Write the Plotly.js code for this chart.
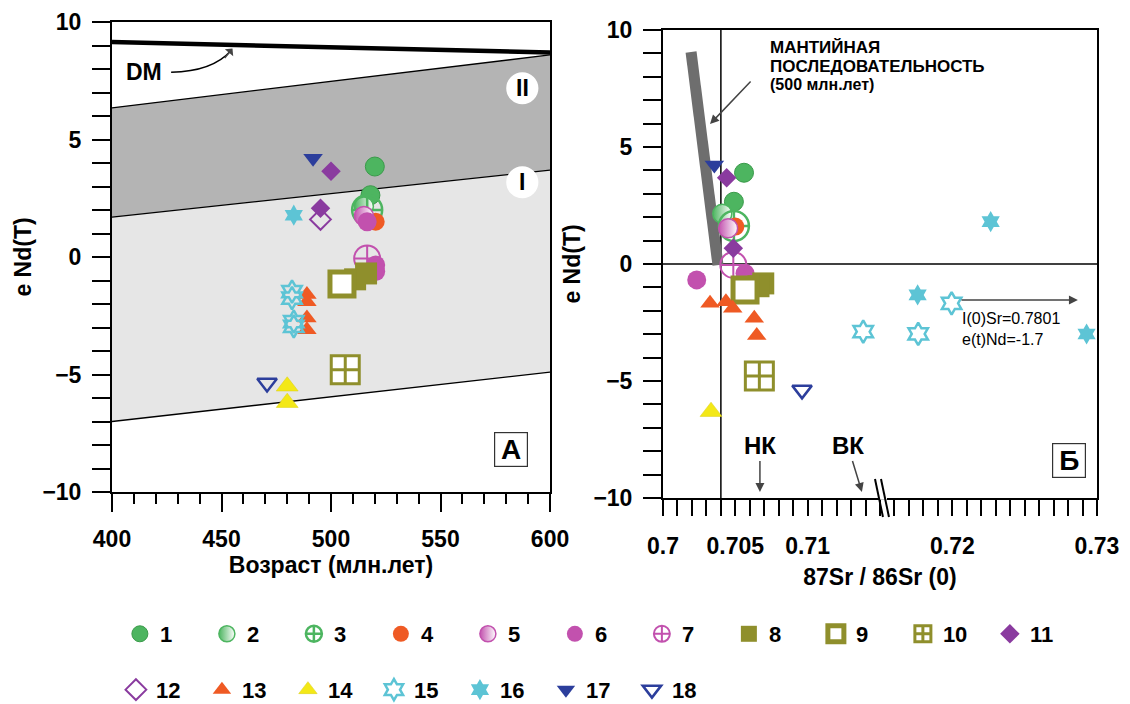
<!DOCTYPE html>
<html><head><meta charset="utf-8">
<script src="https://cdn.plot.ly/plotly-3.0.1.min.js"></script>
<style>html,body{margin:0;padding:0;background:#fff}</style>
</head><body><div id="chart" style="width:1130px;height:704px"></div>
<script>
// ---------- data ----------
const seriesNames = ['1','2','3','4','5','6','7','8','9','10','11','12','13','14','15','16','17','18'];
// Panel A: age (Ma) vs eNd(T)
const ageX = [
  [520, 518], [515], [516.5], [520.4], [515], [516.5, 520.4, 520.4], [516.5],
  [511, 516], [505], [506.5], [500, 495.2], [495.2],
  [489, 489, 489, 489], [480, 480], [482.2, 482.2, 483, 483], [483], [491.8], [470.8]
];
const ageNd = [
  [3.85, 2.63], [2.15], [2.0], [1.5], [1.75], [1.5, -0.34, -0.62], [-0.06],
  [-0.95, -0.7], [-1.15], [-4.8], [3.65, 2.07], [1.6],
  [-1.6, -1.9, -2.6, -3.1], [-5.5, -6.2], [-1.47, -1.75, -2.75, -2.95], [1.78], [4.2], [-5.36]
];
// Panel Б: 87Sr/86Sr(0) vs eNd(T)
const srX = [
  [0.7056, 0.7049], [0.7041], [0.7049], [0.7050], [0.7045], [0.70567, 0.70233], [0.70486],
  [0.70693, 0.7066], [0.70567], [0.70666], [0.7044, 0.70486], [],
  [0.70325, 0.70435, 0.70482, 0.70631, 0.70648], [0.70332], [0.71995, 0.71384, 0.71764],
  [0.72265, 0.7176, 0.72928, 0.7318], [0.70355], [0.70961]
];
const srNd = [
  [3.9, 2.66], [2.15], [1.62], [1.6], [1.53], [-0.4, -0.68], [-0.04],
  [-0.83, -0.95], [-1.11], [-4.79], [3.69, 0.67], [],
  [-1.68, -1.61, -1.89, -2.32, -3.06], [-6.31], [-1.68, -2.89, -2.99],
  [1.81, -1.32, -2.99, -1.47], [4.23], [-5.38]
];
// reference fields in panel A
const fieldAge = [400, 600];
const fieldIITop = [6.35, 8.6];
const fieldIBorder = [1.7, 3.7];
const fieldIBottom = [-7.0, -4.9];
const dmNd = [9.15, 8.7];
// mantle array in panel Б
const mantleSr = [0.70194, 0.7038];
const mantleNd = [9.06, -0.05];
const bulkEarthSr = 0.704;
const churNd = 0;
const srTickVals = [0.7, 0.705, 0.71, 0.72, 0.73];
const srTickText = ['0.7', '0.705', '0.71', '0.72', '0.73'];

// ---------- styles ----------
const G='#4db560', OR='#ef5a24', MG='#c251ae', OL='#8f8f2c', PU='#8a3b9f', YE='#f3e817', CY='#5dc4d5', BL='#2c3e9c';
const styles = [
  {symbol:'circle', color:G, size:19, line:{color:'#3a9a4a', width:1}},
  {symbol:'circle', color:G, size:19, line:{color:G, width:1.5}, gradient:{type:'horizontal', color:'#ffffff'}},
  {symbol:'circle-cross-open', color:G, size:30, line:{color:G, width:2.5}},
  {symbol:'circle', color:OR, size:18, line:{color:OR, width:0}},
  {symbol:'circle', color:MG, size:19, line:{color:MG, width:1.5}, gradient:{type:'horizontal', color:'#ffffff'}},
  {symbol:'circle', color:MG, size:19, line:{color:MG, width:0}},
  {symbol:'circle-cross-open', color:MG, size:26, line:{color:MG, width:2}},
  {symbol:'square', color:OL, size:22, line:{color:OL, width:0}},
  {symbol:'square', color:'#ffffff', size:24, line:{color:OL, width:5}},
  {symbol:'square-cross', color:'#ffffff', size:28, line:{color:OL, width:3}},
  {symbol:'diamond', color:PU, size:15, line:{color:PU, width:0}},
  {symbol:'diamond-open', color:PU, size:16, line:{color:PU, width:2}},
  {symbol:'triangle-up', color:OR, size:17, line:{color:OR, width:0}},
  {symbol:'triangle-up', color:YE, size:19, line:{color:'#d8cc10', width:0.5}},
  {symbol:'hexagram-open', color:CY, size:17, line:{color:CY, width:2.5}},
  {symbol:'hexagram', color:CY, size:16, line:{color:CY, width:0}},
  {symbol:'triangle-down', color:BL, size:17, line:{color:BL, width:0}},
  {symbol:'triangle-down-open', color:BL, size:17, line:{color:BL, width:2.5}}
];

const FONT = 'Liberation Sans, Arial, sans-serif';
const traces = [];
// fields panel A
traces.push({x:[fieldAge[0],fieldAge[1],fieldAge[1],fieldAge[0]], y:[fieldIBorder[0],fieldIBorder[1],fieldIBottom[1],fieldIBottom[0]],
  fill:'toself', fillcolor:'#e6e6e6', mode:'lines', line:{width:0}, showlegend:false, hoverinfo:'skip', xaxis:'x', yaxis:'y'});
traces.push({x:[fieldAge[0],fieldAge[1],fieldAge[1],fieldAge[0]], y:[fieldIITop[0],fieldIITop[1],fieldIBorder[1],fieldIBorder[0]],
  fill:'toself', fillcolor:'#b4b4b4', mode:'lines', line:{width:0}, showlegend:false, hoverinfo:'skip', xaxis:'x', yaxis:'y'});
[fieldIITop, fieldIBorder, fieldIBottom].forEach(b => traces.push({x:fieldAge, y:b, mode:'lines', line:{color:'#000', width:1.3},
  showlegend:false, hoverinfo:'skip', xaxis:'x', yaxis:'y'}));
traces.push({x:fieldAge, y:dmNd, mode:'lines', line:{color:'#000', width:4.5}, showlegend:false, hoverinfo:'skip', xaxis:'x', yaxis:'y'});
// mantle array panel Б
traces.push({x:mantleSr, y:mantleNd, mode:'lines', line:{color:'#6e6e6e', width:11}, showlegend:false, hoverinfo:'skip', xaxis:'x2', yaxis:'y2'});

seriesNames.forEach((n, i) => {
  const st = styles[i];
  const marker = {symbol:st.symbol, color:st.color, size:st.size, line:st.line};
  if (st.gradient) marker.gradient = st.gradient;
  traces.push({x:ageX[i], y:ageNd[i], name:n, mode:'markers', marker:marker, xaxis:'x', yaxis:'y',
    showlegend:true, legend: i < 11 ? 'legend' : 'legend2', cliponaxis:false});
  traces.push({x:srX[i], y:srNd[i], name:n, mode:'markers', marker:marker, xaxis:'x2', yaxis:'y2',
    showlegend:false, cliponaxis:false});
});

const tickF = {family:FONT, size:23, color:'#000', weight:700};
const titleF = {family:FONT, size:23, color:'#000', weight:700};
const yCommon = {range:[-10,10], tickvals:[-10,-5,0,5,10], ticks:'outside', ticklen:18, tickwidth:2, tickcolor:'#000',
  minor:{dtick:1, ticks:'outside', ticklen:18, tickwidth:2, tickcolor:'#000'},
  showline:true, linewidth:2, linecolor:'#000', mirror:true, showgrid:false, zeroline:false,
  tickfont:tickF, ticklabelstandoff:6};
const legFont = {family:FONT, size:22, weight:700, color:'#000'};

const layout = {
  width:1130, height:704, margin:{l:112, r:33, t:22, b:206, autoexpand:false},
  paper_bgcolor:'#fff', plot_bgcolor:'#fff', font:{family:FONT, color:'#000'},
  xaxis:{domain:[0, 0.4447], range:[400,600], tickvals:[400,450,500,550,600], ticks:'outside', ticklen:18, tickwidth:2, tickcolor:'#000',
    minor:{dtick:10, ticks:'outside', ticklen:10, tickwidth:2, tickcolor:'#000'},
    showline:true, linewidth:2, linecolor:'#000', mirror:true, showgrid:false, zeroline:false,
    tickfont:tickF, ticklabelstandoff:7, anchor:'y',
    title:{text:'Возраст (млн.лет)', font:titleF, standoff:4}},
  yaxis:Object.assign({}, yCommon, {domain:[0.0126, 1], anchor:'x',
    title:{text:'e Nd(T)', font:titleF, standoff:4}}),
  xaxis2:{domain:[0.5594, 1], range:[0.7, 0.73], tickvals:srTickVals, ticktext:srTickText, ticks:'outside', ticklen:16, tickwidth:2, tickcolor:'#000',
    minor:{dtick:0.001, ticks:'outside', ticklen:16, tickwidth:2, tickcolor:'#000'},
    showline:true, linewidth:2, linecolor:'#000', mirror:true, showgrid:false, zeroline:false,
    tickfont:tickF, ticklabelstandoff:10, anchor:'y2',
    title:{text:'87Sr / 86Sr (0)', font:titleF, standoff:11}},
  yaxis2:Object.assign({}, yCommon, {domain:[0, 0.9832], anchor:'x2',
    title:{text:'e Nd(T)', font:titleF, standoff:6}}),
  legend:{orientation:'h', x:0.008, y:-0.2857, xanchor:'left', yanchor:'middle', font:legFont,
    entrywidth:42, entrywidthmode:'pixels', bgcolor:'rgba(0,0,0,0)', itemsizing:'trace', traceorder:'normal'},
  legend2:{orientation:'h', x:0.004, y:-0.403, xanchor:'left', yanchor:'middle', font:legFont,
    entrywidth:41, entrywidthmode:'pixels', bgcolor:'rgba(0,0,0,0)', itemsizing:'trace', traceorder:'normal'},
  shapes:[
    {type:'line', xref:'x2', yref:'y2', x0:bulkEarthSr, x1:bulkEarthSr, y0:-10, y1:10, line:{color:'#000', width:1.5}, layer:'below'},
    {type:'line', xref:'x2', yref:'y2', x0:0.7, x1:0.73, y0:churNd, y1:churNd, line:{color:'#000', width:1.5}, layer:'below'},
    {type:'path', xref:'x', yref:'y', path:'M 427,7.86 Q 446,7.9 454.5,8.8', line:{color:'#000', width:1.5}},
    {type:'circle', xref:'x', yref:'y', x0:580, x1:594.7, y0:6.5, y1:7.86, fillcolor:'#fff', line:{color:'#fff', width:0}},
    {type:'circle', xref:'x', yref:'y', x0:580, x1:594.7, y0:2.5, y1:3.86, fillcolor:'#fff', line:{color:'#fff', width:0}},
    {type:'line', xref:'paper', yref:'paper', x0:0.7787, x1:0.7868, y0:0.0005, y1:0.0005, line:{color:'#fff', width:4}},
    {type:'line', xref:'paper', yref:'paper', x0:0.7746, x1:0.7827, y0:0.0399, y1:-0.0399, line:{color:'#000', width:2}},
    {type:'line', xref:'paper', yref:'paper', x0:0.7807, x1:0.7888, y0:0.0399, y1:-0.0399, line:{color:'#000', width:2}}
  ],
  annotations:[
    {xref:'x', yref:'y', x:414.8, y:7.86, text:'DM', showarrow:false, font:{family:FONT, size:23, weight:700}},
    {xref:'x', yref:'y', x:455, y:8.87, ax:-9, ay:11, text:'', showarrow:true, arrowhead:1, arrowsize:1.2, arrowwidth:1.5},
    {xref:'x', yref:'y', x:587.3, y:7.18, text:'II', showarrow:false, font:{family:FONT, size:23, weight:700}},
    {xref:'x', yref:'y', x:587.3, y:3.18, text:'I', showarrow:false, font:{family:FONT, size:23, weight:700}},
    {xref:'x', yref:'y', x:582.2, y:-8.2, text:'А', showarrow:false, font:{family:FONT, size:28, weight:700},
      bordercolor:'#333', borderwidth:1.2, borderpad:1, bgcolor:'#fff', width:30, height:31},
    {xref:'x2', yref:'y2', x:0.72806, y:-8.38, text:'Б', showarrow:false, font:{family:FONT, size:28, weight:700},
      bordercolor:'#333', borderwidth:1.2, borderpad:1, bgcolor:'#fff', width:30, height:31},
    {xref:'x2', yref:'y2', x:0.70726, y:9.27, xanchor:'left', yanchor:'middle', showarrow:false,
      text:'МАНТИЙНАЯ', font:{family:FONT, size:17, weight:700}},
    {xref:'x2', yref:'y2', x:0.70726, y:8.46, xanchor:'left', yanchor:'middle', showarrow:false,
      text:'ПОСЛЕДОВАТЕЛЬНОСТЬ', font:{family:FONT, size:17, weight:700}},
    {xref:'x2', yref:'y2', x:0.70726, y:7.68, xanchor:'left', yanchor:'middle', showarrow:false,
      text:'(500 млн.лет)', font:{family:FONT, size:16, weight:700}},
    {xref:'x2', yref:'y2', x:0.70325, y:5.98, ax:42, ay:-44, text:'', showarrow:true, arrowhead:2, arrowsize:1.2, arrowwidth:1.5},
    {xref:'x2', yref:'y2', x:0.7067, y:-9.74, ax:0, ay:-46, text:'НК', showarrow:true, arrowhead:2, arrowsize:1.2, arrowwidth:1.5,
      font:{family:FONT, size:24, weight:700}},
    {xref:'x2', yref:'y2', x:0.71375, y:-9.74, ax:-14, ay:-46, text:'ВК', showarrow:true, arrowhead:2, arrowsize:1.2, arrowwidth:1.5,
      font:{family:FONT, size:24, weight:700}},
    {xref:'x2', yref:'y2', axref:'x2', ayref:'y2', x:0.72868, y:-1.54, ax:0.72053, ay:-1.54, text:'', showarrow:true,
      arrowhead:2, arrowsize:1.2, arrowwidth:1.5},
    {xref:'x2', yref:'y2', x:0.7205, y:-1.9, xanchor:'left', yanchor:'top', align:'left', showarrow:false,
      text:'I(0)Sr=0.7801<br>e(t)Nd=-1.7', font:{family:FONT, size:16}}
  ]
};
Plotly.newPlot('chart', traces, layout, {displayModeBar:false, staticPlot:true});
</script></body></html>
